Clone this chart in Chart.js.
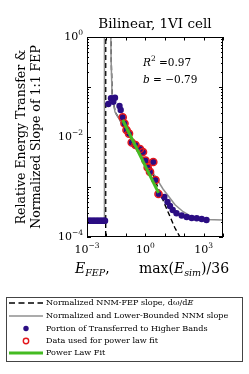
<!DOCTYPE html>
<html lang="en">
<head>
<meta charset="UTF-8" />
<title>Bilinear, 1VI cell</title>
<script src="https://cdn.jsdelivr.net/npm/chart.js"></script>
<style>
  html,body{margin:0;padding:0;background:#fff}
</style>
</head>
<body>
<canvas id="c" width="249" height="374"></canvas>
<script>
// normalized NNM-FEP slope, dw/dE (dashed)
const fepX = [9.16e-3, 9.16e-3, 0.0166, 0.0177, 0.0198, 0.0283, 0.129, 0.966, 2.21, 5.71, 14.8, 33.8, 61.1, 98];
const fepY = [5e-5, 3, 3, 0.35, 0.069, 0.0316, 0.0112, 3.31e-3, 2.0e-3, 7.6e-4, 3.16e-4, 1.51e-4, 1e-4, 5.5e-5];

// normalized and lower-bounded NNM slope (gray)
const nnmX = [1e-3, 7.8e-3, 7.9e-3, 0.0163, 0.0174, 0.0195, 0.0277, 0.129, 0.966, 8.17, 34, 89, 259, 1200, 1e4];
const nnmY = [2.12e-4, 2.12e-4, 3, 3, 0.35, 0.069, 0.0316, 0.0115, 3.47e-3, 9.12e-4, 4.4e-4, 3.2e-4, 2.5e-4, 2.24e-4, 2.2e-4];

// portion transferred to higher bands (all points)
const bandX = [1.12e-3, 1.32e-3, 1.55e-3, 1.82e-3, 2.14e-3, 2.51e-3, 2.95e-3, 3.47e-3, 4.07e-3, 4.79e-3, 5.62e-3, 6.61e-3, 7.76e-3, 8.5e-3,
  0.0125, 0.0172, 0.0226, 0.0276, 0.0471, 0.0542,
  0.0687, 0.0851, 0.108, 0.145, 0.200, 0.313, 0.535, 0.762, 1.03, 1.33, 1.75, 2.58, 3.35, 4.79,
  9.51, 13.9, 18.7, 25.8, 40.4, 74.8, 135, 245, 443, 800, 1413];
const bandY = [2.12e-4, 2.12e-4, 2.12e-4, 2.12e-4, 2.12e-4, 2.12e-4, 2.12e-4, 2.12e-4, 2.12e-4, 2.12e-4, 2.12e-4, 2.12e-4, 2.12e-4, 2.12e-4,
  0.0457, 0.0594, 0.0508, 0.0611, 0.0417, 0.0347,
  0.0248, 0.0186, 0.0138, 0.0117, 0.00776, 0.00692, 0.00575, 0.00501, 0.00339, 0.00245, 0.00200, 0.00316, 0.00138, 7.24e-4,
  6.31e-4, 5.01e-4, 4.17e-4, 3.47e-4, 2.98e-4, 2.69e-4, 2.51e-4, 2.40e-4, 2.37e-4, 2.29e-4, 2.19e-4];

// points used for the power law fit
const usedX = [0.0687, 0.0851, 0.108, 0.145, 0.200, 0.313, 0.535, 0.762, 1.03, 1.33, 1.75, 2.58, 3.35, 4.79];
const usedY = [0.0248, 0.0186, 0.0138, 0.0117, 0.00776, 0.00692, 0.00575, 0.00501, 0.00339, 0.00245, 0.00200, 0.00316, 0.00138, 7.24e-4];

// power law fit, end points
const fitX = [0.0687, 4.79];
const fitY = [0.0219, 7.66e-4];

const xTicks = [1e-3, 1, 1e3], xTickExp = ['−3', '0', '3'];
const yTicks = [1e-4, 1e-2, 1], yTickExp = ['−4', '−2', '0'];
const xDecades = [1e-3, 1e-2, 1e-1, 1, 10, 100, 1e3, 1e4];
const yDecades = [1e-4, 1e-3, 1e-2, 1e-1, 1];

const pts = (xs, ys) => xs.map((v, i) => ({x: v, y: ys[i]}));

const SERIF = '"DejaVu Serif", serif';
const C_BAND = '#2b0d83', C_RED = '#e3161c', C_GREEN = '#44bb22', C_GRAY = '#8f8f8f';

function runs(ctx, parts, x, yb) {
  for (const [t, f, dy] of parts) {
    ctx.font = f;
    ctx.fillText(t, x, yb + dy);
    x += ctx.measureText(t).width;
  }
  return x;
}
function pow10(ctx, exp, x, y, align) {
  ctx.textBaseline = 'middle';
  ctx.font = '11px ' + SERIF;
  const wb = ctx.measureText('10').width;
  ctx.font = '7.5px ' + SERIF;
  const we = ctx.measureText(exp).width;
  let x0 = align === 'right' ? x - wb - we : x - (wb + we) / 2;
  ctx.font = '11px ' + SERIF;
  ctx.fillText('10', x0, y);
  ctx.font = '7.5px ' + SERIF;
  ctx.fillText(exp, x0 + wb, y - 4);
}

const overlay = {
  id: 'overlay',
  afterDraw(chart) {
    const {ctx, chartArea: a, scales: {x, y}} = chart;
    ctx.save();
    ctx.strokeStyle = '#000';
    ctx.fillStyle = '#000';
    ctx.lineWidth = 1;
    ctx.strokeRect(a.left + .5, a.top + .5, a.right - a.left - 1, a.bottom - a.top - 1);

    // inward ticks
    ctx.beginPath();
    xDecades.forEach(v => {
      const p = Math.round(x.getPixelForValue(v)) + .5;
      ctx.moveTo(p, a.bottom); ctx.lineTo(p, a.bottom - 3.5);
      ctx.moveTo(p, a.top); ctx.lineTo(p, a.top + 3.5);
    });
    yDecades.forEach((v, i) => {
      for (let m = 1; m <= 9; m++) {
        if (i === yDecades.length - 1 && m > 1) break;
        const p = Math.round(y.getPixelForValue(v * m)) + .5;
        const len = m === 1 ? 4 : 2;
        ctx.moveTo(a.left, p); ctx.lineTo(a.left + len, p);
        ctx.moveTo(a.right, p); ctx.lineTo(a.right - len, p);
      }
    });
    ctx.stroke();

    // tick labels
    ctx.textAlign = 'left';
    xTicks.forEach((v, i) => pow10(ctx, xTickExp[i], x.getPixelForValue(v), 250, 'center'));
    yTicks.forEach((v, i) => pow10(ctx, yTickExp[i], 83, y.getPixelForValue(v), 'right'));

    // title
    ctx.textBaseline = 'alphabetic';
    ctx.textAlign = 'center';
    ctx.font = '13.5px ' + SERIF;
    ctx.fillText('Bilinear, 1VI cell', (a.left + a.right) / 2, 28);

    // y label
    ctx.save();
    ctx.translate(25, (a.top + a.bottom) / 2);
    ctx.rotate(-Math.PI / 2);
    ctx.font = '12.5px ' + SERIF;
    ctx.fillText('Relative Energy Transfer &', 0, 0);
    ctx.fillText('Normalized Slope of 1:1 FEP', 0, 15);
    ctx.restore();

    // x label
    ctx.textAlign = 'left';
    const it = s => 'italic ' + s + 'px ' + SERIF, rm = s => s + 'px ' + SERIF;
    runs(ctx, [['E', it(14), 0], ['FEP', it(9.5), 3], [',', rm(14), 0]], 75, 273);
    runs(ctx, [['max(', rm(14), 0], ['E', it(14), 0], ['sim', it(9.5), 3], [')/36', rm(14), 0]], 139, 273);

    // fit annotation
    runs(ctx, [['R', it(10.5), 0], ['2', rm(7.5), -5], [' =0.97', rm(10.5), 0]], 143, 66);
    runs(ctx, [['b', it(10.5), 0], [' = −0.79', rm(10.5), 0]], 143, 83);

    // legend
    ctx.strokeStyle = '#444';
    ctx.lineWidth = 1;
    ctx.strokeRect(6.5, 297.5, 236, 64);
    const rows = [303, 316, 328.5, 341, 353];
    const hx0 = 9, hx1 = 43, hc = 26;
    ctx.lineWidth = 1.5;
    ctx.strokeStyle = '#000';
    ctx.setLineDash([6, 3.5]);
    ctx.beginPath(); ctx.moveTo(hx0, rows[0]); ctx.lineTo(hx1, rows[0]); ctx.stroke();
    ctx.setLineDash([]);
    ctx.strokeStyle = C_GRAY;
    ctx.beginPath(); ctx.moveTo(hx0, rows[1]); ctx.lineTo(hx1, rows[1]); ctx.stroke();
    ctx.fillStyle = C_BAND;
    ctx.beginPath(); ctx.arc(hc, rows[2], 2.7, 0, Math.PI * 2); ctx.fill();
    ctx.strokeStyle = C_RED; ctx.lineWidth = 1.4;
    ctx.beginPath(); ctx.arc(hc, rows[3], 2.7, 0, Math.PI * 2); ctx.stroke();
    ctx.strokeStyle = C_GREEN; ctx.lineWidth = 3;
    ctx.beginPath(); ctx.moveTo(hx0, rows[4]); ctx.lineTo(hx1, rows[4]); ctx.stroke();

    ctx.fillStyle = '#000';
    ctx.textBaseline = 'middle';
    const lf = 8.1;
    runs(ctx, [['Normalized NNM-FEP slope, dω/d', rm(lf), 0], ['E', it(lf), 0]], 46, rows[0]);
    runs(ctx, [['Normalized and Lower-Bounded NNM slope', rm(lf), 0]], 46, rows[1]);
    runs(ctx, [['Portion of Transferred to Higher Bands', rm(lf), 0]], 46, rows[2]);
    runs(ctx, [['Data used for power law fit', rm(lf), 0]], 46, rows[3]);
    runs(ctx, [['Power Law Fit', rm(lf), 0]], 46, rows[4]);
    ctx.restore();
  }
};

new Chart(document.getElementById('c'), {
  type: 'scatter',
  data: {
    datasets: [
      {label: 'Power Law Fit', data: pts(fitX, fitY), showLine: true, borderColor: C_GREEN, borderWidth: 3,
       pointRadius: 0, order: 0},
      {label: 'Data used for power law fit', data: pts(usedX, usedY), pointRadius: 3.6, pointBorderWidth: 1.5,
       pointBorderColor: C_RED, pointBackgroundColor: 'rgba(0,0,0,0)', order: 1},
      {label: 'Portion of Transferred to Higher Bands', data: pts(bandX, bandY), pointRadius: 3.2,
       pointBorderWidth: 0, pointBackgroundColor: C_BAND, order: 2},
      {label: 'Normalized and Lower-Bounded NNM slope', data: pts(nnmX, nnmY), showLine: true, borderColor: C_GRAY,
       borderWidth: 1.5, pointRadius: 0, order: 3},
      {label: 'Normalized NNM-FEP slope', data: pts(fepX, fepY), showLine: true, borderColor: '#000',
       borderWidth: 1.4, borderDash: [5, 3], pointRadius: 0, order: 4}
    ]
  },
  options: {
    responsive: false,
    animation: false,
    events: [],
    layout: {padding: {top: 37, right: 26, left: 0, bottom: 0}},
    plugins: {legend: {display: false}, tooltip: {enabled: false}},
    scales: {
      x: {type: 'logarithmic', min: 1e-3, max: 1e4, grid: {display: false}, border: {display: false},
          ticks: {display: false}, afterFit: s => { s.height = 137; }},
      y: {type: 'logarithmic', min: 1e-4, max: 1, grid: {display: false}, border: {display: false},
          ticks: {display: false}, afterFit: s => { s.width = 87; }}
    }
  },
  plugins: [overlay]
});
</script>
</body>
</html>
